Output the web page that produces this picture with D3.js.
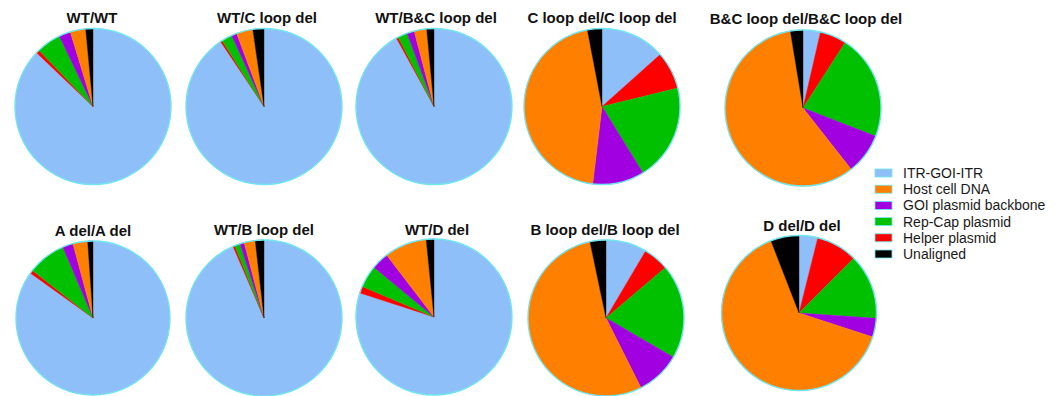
<!DOCTYPE html>
<html>
<head>
<meta charset="utf-8">
<script src="https://cdn.jsdelivr.net/npm/d3@7"></script>
<style>
  html, body { margin: 0; padding: 0; background: #fff; }
  svg { display: block; }
</style>
</head>
<body>
<svg id="chart" width="1064" height="396"></svg>
<script>
// Genotype panels
const panels = [
  "WT/WT", "WT/C loop del", "WT/B&C loop del", "C loop del/C loop del", "B&C loop del/B&C loop del",
  "A del/A del", "WT/B loop del", "WT/D del", "B loop del/B loop del", "D del/D del"
];

// Read composition (%) per panel, one array per read category
const itrGoiItr   = [87.1, 90.6, 92.0, 13.4,  3.6, 84.9, 93.5, 80.0,  8.5,  3.9];
const helperPlasmid = [0.7, 0.4,  0.4,  7.8,  5.5,  0.7,  0.4,  1.4,  5.3,  8.6];
const repCapPlasmid = [5.1, 2.2,  2.0, 20.0, 21.8,  8.0,  1.1,  4.6, 19.6, 13.6];
const goiBackbone   = [2.4, 1.1,  1.5, 10.7,  8.5,  2.2,  0.9,  3.6,  9.2,  3.9];
const hostCellDna   = [3.2, 3.4,  2.6, 45.1, 58.0,  3.1,  2.3,  8.8, 54.1, 64.1];
const unaligned     = [1.5, 2.3,  1.5,  3.0,  2.6,  1.1,  1.8,  1.6,  3.3,  5.9];

// Slice order (clockwise from 12 o'clock)
const sliceOrder = ["ITR-GOI-ITR", "Helper plasmid", "Rep-Cap plasmid", "GOI plasmid backbone", "Host cell DNA", "Unaligned"];
const seriesValues = [itrGoiItr, helperPlasmid, repCapPlasmid, goiBackbone, hostCellDna, unaligned];

// Legend order
const legendOrder = ["ITR-GOI-ITR", "Host cell DNA", "GOI plasmid backbone", "Rep-Cap plasmid", "Helper plasmid", "Unaligned"];

const color = d3.scaleOrdinal()
  .domain(sliceOrder)
  .range(["#8fbff8", "#ff0000", "#00c000", "#a100e0", "#ff8000", "#000000"]);

// Panel placement
const layout = {
  cx: [93, 264, 434, 602, 803, 93, 264, 434, 606, 799],
  cy: [106.5, 106.5, 106.5, 106.5, 108, 318, 318, 317, 318, 313],
  r:  [78, 78, 78, 78, 78, 77, 78, 78, 78, 77.5],
  titleX: [92, 267, 436, 602, 806, 93, 264, 437, 605, 802],
  titleY: [23, 23, 23, 23, 24, 236, 235, 235, 235, 231]
};

const svg = d3.select("#chart");
const pie = d3.pie().sort(null).value(d => d.value);
const rimColor = "#6fe6ef";

panels.forEach((name, i) => {
  const data = sliceOrder.map((cat, k) => ({ cat, value: seriesValues[k][i] }));
  const arc = d3.arc().innerRadius(0).outerRadius(layout.r[i]);
  const g = svg.append("g").attr("transform", `translate(${layout.cx[i]},${layout.cy[i]})`);

  g.selectAll("path.slice")
    .data(pie(data))
    .join("path")
    .attr("class", "slice")
    .attr("d", arc)
    .attr("fill", d => color(d.data.cat))
    .attr("stroke", d => color(d.data.cat))
    .attr("stroke-width", 0.4);

  g.append("circle")
    .attr("r", layout.r[i])
    .attr("fill", "none")
    .attr("stroke", rimColor)
    .attr("stroke-width", 1.3);

  svg.append("text")
    .attr("x", layout.titleX[i])
    .attr("y", layout.titleY[i])
    .attr("text-anchor", "middle")
    .attr("font-family", "Liberation Sans, Arial, sans-serif")
    .attr("font-weight", "bold")
    .attr("font-size", 15)
    .attr("fill", "#111")
    .text(name);
});

// Legend
const legend = svg.append("g").attr("transform", "translate(875,169)");
const rowStep = 16.2;
const item = legend.selectAll("g.item")
  .data(legendOrder)
  .join("g")
  .attr("class", "item")
  .attr("transform", (d, k) => `translate(0,${k * rowStep})`);

item.append("rect")
  .attr("width", 17)
  .attr("height", 8)
  .attr("fill", d => color(d))
  .attr("stroke", rimColor)
  .attr("stroke-width", 0.8);

item.append("text")
  .attr("x", 28)
  .attr("y", 9)
  .attr("font-family", "Liberation Sans, Arial, sans-serif")
  .attr("font-size", 14)
  .attr("fill", "#1a1a1a")
  .text(d => d);
</script>
</body>
</html>
